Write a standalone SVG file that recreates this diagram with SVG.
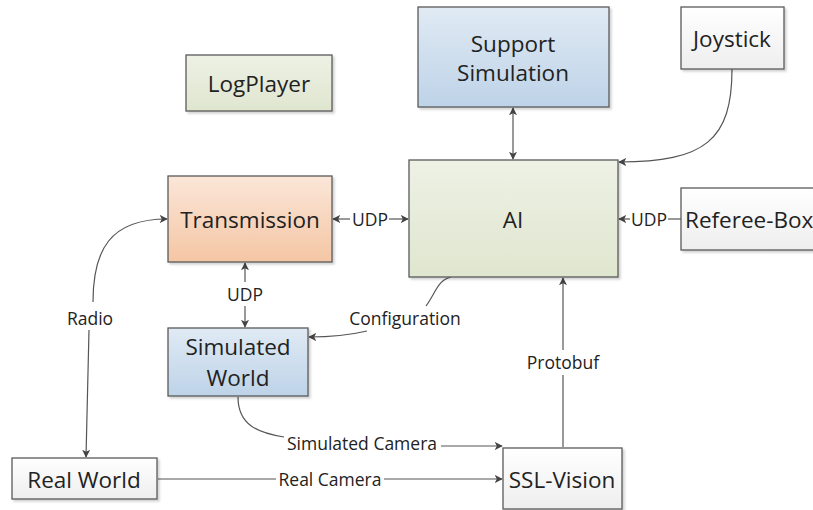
<svg xmlns="http://www.w3.org/2000/svg" width="813" height="510" viewBox="0 0 813 510">
<style>
.box{stroke:#5a5a5a;stroke-width:1.3}
.t{font-family:"Open Sans","Noto Sans",sans-serif;font-size:22.5px;fill:#222;text-anchor:middle;dominant-baseline:central}
.l{font-family:"Open Sans","Noto Sans",sans-serif;font-size:17.5px;fill:#222;text-anchor:middle;dominant-baseline:central}
.c{fill:none;stroke:#555;stroke-width:1.2}
</style>
<defs>
<linearGradient id="gB" x1="0" y1="0" x2="0" y2="1"><stop offset="0" stop-color="#e0eaf4"/><stop offset="1" stop-color="#bed3e8"/></linearGradient>
<linearGradient id="gG" x1="0" y1="0" x2="0" y2="1"><stop offset="0" stop-color="#eef1e5"/><stop offset="1" stop-color="#dfe6cf"/></linearGradient>
<linearGradient id="gO" x1="0" y1="0" x2="0" y2="1"><stop offset="0" stop-color="#fbe6d8"/><stop offset="1" stop-color="#f4c6a4"/></linearGradient>
<linearGradient id="gW" x1="0" y1="0" x2="0" y2="1"><stop offset="0" stop-color="#ffffff"/><stop offset="1" stop-color="#eeeeee"/></linearGradient>
<filter id="sh" x="-10%" y="-10%" width="130%" height="130%"><feDropShadow dx="2" dy="2" stdDeviation="1.2" flood-color="#000" flood-opacity="0.18"/></filter>
<marker id="a" viewBox="0 0 10 10" refX="9" refY="5" markerWidth="8" markerHeight="8" orient="auto-start-reverse" markerUnits="userSpaceOnUse"><path d="M0,0 L10,5 L0,10 L2.5,5 z" fill="#444"/></marker>
</defs>
<g id="connectors">
<path class="c" d="M513,108 L513,159" marker-start="url(#a)" marker-end="url(#a)"/>
<path class="c" d="M732,69 C732,140 705,162 619,162" marker-end="url(#a)"/>
<path class="c" d="M333,219 L350,219" marker-start="url(#a)"/>
<path class="c" d="M389,219 L408,219" marker-end="url(#a)"/>
<path class="c" d="M681,219 L668,219"/>
<path class="c" d="M630,219 L619,219" marker-end="url(#a)"/>
<path class="c" d="M245,263 L245,282" marker-start="url(#a)"/>
<path class="c" d="M245,306 L245,327" marker-end="url(#a)"/>
<path class="c" d="M93,302 C93,250 110,219 167,219" marker-end="url(#a)"/>
<path class="c" d="M89,330 L86,457" marker-end="url(#a)"/>
<path class="c" d="M451,277 C438,280 436,292 426,306"/>
<path class="c" d="M367,331 C350,335 330,337 309,337" marker-end="url(#a)"/>
<path class="c" d="M238,397 C238,425 258,433 284,437"/>
<path class="c" d="M441,446 L502,446" marker-end="url(#a)"/>
<path class="c" d="M158,479 L276,479"/>
<path class="c" d="M384,479 L502,479" marker-end="url(#a)"/>
<path class="c" d="M563,447 L563,375"/>
<path class="c" d="M563,350 L563,278" marker-end="url(#a)"/>
<text class="l" x="370" y="219">UDP</text>
<text class="l" x="649" y="219">UDP</text>
<text class="l" x="245" y="294">UDP</text>
<text class="l" x="90" y="318">Radio</text>
<text class="l" x="405" y="318">Configuration</text>
<text class="l" x="362" y="443">Simulated Camera</text>
<text class="l" x="330" y="479">Real Camera</text>
<text class="l" x="563" y="362">Protobuf</text>
</g>
<g id="logplayer"><rect class="box" x="186" y="55" width="146" height="56" fill="url(#gG)" filter="url(#sh)"/><text class="t" x="259" y="83">LogPlayer</text></g>
<g id="support"><rect class="box" x="418" y="7" width="191" height="100" fill="url(#gB)" filter="url(#sh)"/><text class="t" x="513" y="43">Support</text><text class="t" x="513" y="72">Simulation</text></g>
<g id="joystick"><rect class="box" x="681" y="7" width="103" height="62" fill="url(#gW)" filter="url(#sh)"/><text class="t" x="732" y="38">Joystick</text></g>
<g id="ai"><rect class="box" x="409" y="160" width="209" height="117" fill="url(#gG)" filter="url(#sh)"/><text class="t" x="513" y="219">AI</text></g>
<g id="referee"><rect class="box" x="681" y="188" width="140" height="62" fill="url(#gW)" filter="url(#sh)"/><text class="t" x="685" y="219" style="text-anchor:start">Referee-Box</text></g>
<g id="transmission"><rect class="box" x="168" y="176" width="164" height="86" fill="url(#gO)" filter="url(#sh)"/><text class="t" x="250" y="219">Transmission</text></g>
<g id="simworld"><rect class="box" x="168" y="328" width="140" height="68" fill="url(#gB)" filter="url(#sh)"/><text class="t" x="238" y="346">Simulated</text><text class="t" x="238" y="377">World</text></g>
<g id="realworld"><rect class="box" x="12" y="458" width="145" height="41" fill="url(#gW)" filter="url(#sh)"/><text class="t" x="84" y="479">Real World</text></g>
<g id="sslvision"><rect class="box" x="503" y="448" width="119" height="61" fill="url(#gW)" filter="url(#sh)"/><text class="t" x="562" y="479">SSL-Vision</text></g>
</svg>
